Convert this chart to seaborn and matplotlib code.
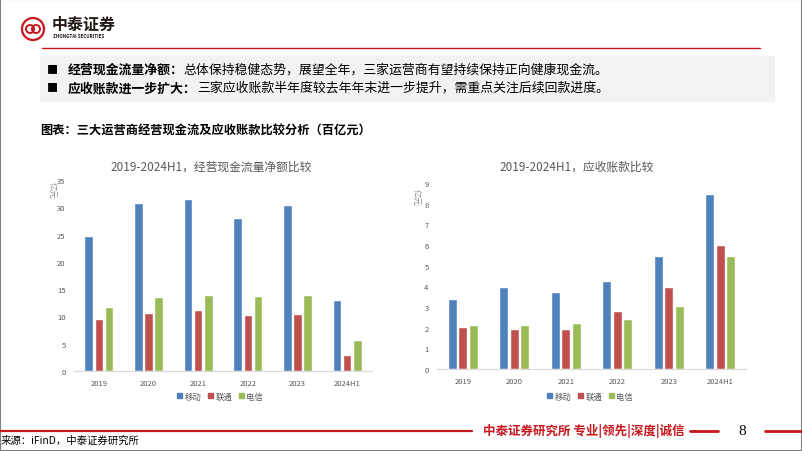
import matplotlib
matplotlib.use("Agg")
import matplotlib.pyplot as plt
from matplotlib import patches
import seaborn as sns
import pandas as pd

years = ["2019", "2020", "2021", "2022", "2023", "2024H1"]
operators = ["移动", "联通", "电信"]
cash_mobile = [24.7, 30.8, 31.5, 28.0, 30.4, 13.1]
cash_unicom = [9.5, 10.7, 11.1, 10.2, 10.5, 2.9]
cash_telecom = [11.7, 13.5, 13.9, 13.7, 13.9, 5.75]
ar_mobile = [3.38, 3.98, 3.72, 4.27, 5.47, 8.45]
ar_unicom = [2.05, 1.93, 1.93, 2.79, 3.99, 6.0]
ar_telecom = [2.14, 2.14, 2.24, 2.40, 3.06, 5.47]
colors = ["#4F81BD", "#C0504D", "#9BBB59"]

sns.set_theme(style="white")
plt.rcParams['font.family'] = ['Noto Sans CJK SC', 'DejaVu Sans']

W, H = 802, 452
fig = plt.figure(figsize=(W / 100, H / 100), dpi=100)
fig.patch.set_facecolor("white")


def fx(x):
    return x / W


def fy(y):
    return 1 - y / H


def long_df(a, b, c):
    rows = []
    for name, vals in zip(operators, [a, b, c]):
        for yr, v in zip(years, vals):
            rows.append({"year": yr, "op": name, "val": v})
    return pd.DataFrame(rows)


def draw_chart(rect, df, ymax, title, title_xy, ylab_xy, legend_x):
    x0, y0, x1, y1 = rect
    ax = fig.add_axes([fx(x0), fy(y1), fx(x1 - x0), (y1 - y0) / H])
    sns.barplot(data=df, x="year", y="val", hue="op", order=years, hue_order=operators,
                palette=colors, width=0.62, gap=0.16, ax=ax, legend=False, saturation=1)
    ax.set_ylim(0, ymax)
    ax.set_xlim(-0.5, 5.5)
    ax.set_xlabel("")
    ax.set_ylabel("")
    for s in ["top", "right", "left"]:
        ax.spines[s].set_visible(False)
    ax.spines["bottom"].set_color("#D9D9D9")
    ax.spines["bottom"].set_linewidth(0.8)
    ax.tick_params(axis="both", length=0, labelsize=5.5, colors="#595959", pad=6)
    ax.set_facecolor("white")
    fig.text(fx(title_xy[0]), fy(title_xy[1]), title, ha="center", va="center",
             fontsize=8.5, color="#595959")
    fig.text(fx(ylab_xy[0]), fy(ylab_xy[1]), "亿元", ha="center", va="center",
             fontsize=6, color="#8C8C8C", rotation=270)
    handles = [patches.Patch(color=c, label=l) for c, l in zip(colors, operators)]
    fig.legend(handles=handles, loc="center", bbox_to_anchor=(fx(legend_x), fy(397)),
               ncol=3, frameon=False, fontsize=6, handlelength=0.6, handleheight=0.6,
               columnspacing=0.8, handletextpad=0.3, labelcolor="#595959")
    return ax


draw_chart((74, 181, 372, 372), long_df(cash_mobile, cash_unicom, cash_telecom), 35,
           "2019-2024H1，经营现金流量净额比较", (211, 167), (52, 190), 220)
draw_chart((437, 184, 746, 370), long_df(ar_mobile, ar_unicom, ar_telecom), 9,
           "2019-2024H1，应收账款比较", (577, 167), (416, 197), 590)

# Header: logo
red = "#C8161D"
lx, ly = 33, 30
fig.patches.append(patches.Ellipse((fx(lx), fy(ly)), 22 / W, 22 / H, transform=fig.transFigure,
                                   fill=False, edgecolor=red, linewidth=1.6))
fig.patches.append(patches.Ellipse((fx(lx - 3), fy(ly)), 8 / W, 8 / H, transform=fig.transFigure,
                                   fill=False, edgecolor=red, linewidth=1.4))
fig.patches.append(patches.Ellipse((fx(lx + 3), fy(ly)), 8 / W, 8 / H, transform=fig.transFigure,
                                   fill=False, edgecolor=red, linewidth=1.4))
fig.text(fx(52), fy(25), "中泰证券", fontsize=11.5, fontweight="bold", color="#231815",
         ha="left", va="center")
fig.text(fx(53), fy(36.5), "ZHONGTAI SECURITIES", fontsize=3.3, fontweight="bold",
         color="#231815", ha="left", va="center")
fig.add_artist(plt.Line2D([fx(42), fx(760)], [fy(49), fy(49)], color=red, linewidth=1.0))

# Gray bullet box
fig.patches.append(patches.Rectangle((fx(40), fy(103)), (775 - 40) / W, 46 / H,
                                     transform=fig.transFigure, facecolor="#F2F2F2",
                                     edgecolor="none", zorder=0))
bullets = [
    ("经营现金流量净额：", "总体保持稳健态势，展望全年，三家运营商有望持续保持正向健康现金流。", 70),
    ("应收账款进一步扩大：", "三家应收账款半年度较去年年末进一步提升，需重点关注后续回款进度。", 88),
]
for head, body, y in bullets:
    fig.text(fx(47), fy(y), "■", fontsize=8, color="#000000", ha="left", va="center")
    t = fig.text(fx(68), fy(y), head, fontsize=9.3, fontweight="bold", color="#000000",
                 ha="left", va="center")
    fig.canvas.draw()
    bb = t.get_window_extent()
    fig.text(bb.x1 / W, fy(y), body, fontsize=9.3, color="#000000", ha="left", va="center")

fig.text(fx(40), fy(131), "图表：三大运营商经营现金流及应收账款比较分析（百亿元）", fontsize=8.8,
         fontweight="bold", color="#000000", ha="left", va="center")

# Footer
fig.add_artist(plt.Line2D([fx(0), fx(472)], [fy(432), fy(432)], color=red, linewidth=1.6))
fig.text(fx(483), fy(431), "中泰证券研究所 专业|领先|深度|诚信", fontsize=9, fontweight="bold",
         color=red, ha="left", va="center")
fig.add_artist(plt.Line2D([fx(690), fx(718)], [fy(432), fy(432)], color=red, linewidth=2))
fig.text(fx(742), fy(432), "8", fontsize=11, color="#000000", ha="center", va="center",
         family=["Liberation Serif", "DejaVu Serif"])
fig.add_artist(plt.Line2D([fx(765), fx(802)], [fy(432), fy(432)], color=red, linewidth=2))
fig.text(fx(1), fy(441), "来源：iFinD，中泰证券研究所", fontsize=7.5, color="#000000",
         ha="left", va="center")

# slide border
fig.patches.append(patches.Rectangle((0, 0), 1, 1, transform=fig.transFigure, fill=False,
                                     edgecolor="#7F7F7F", linewidth=1.5))

fig.savefig("out.png", dpi=100)
